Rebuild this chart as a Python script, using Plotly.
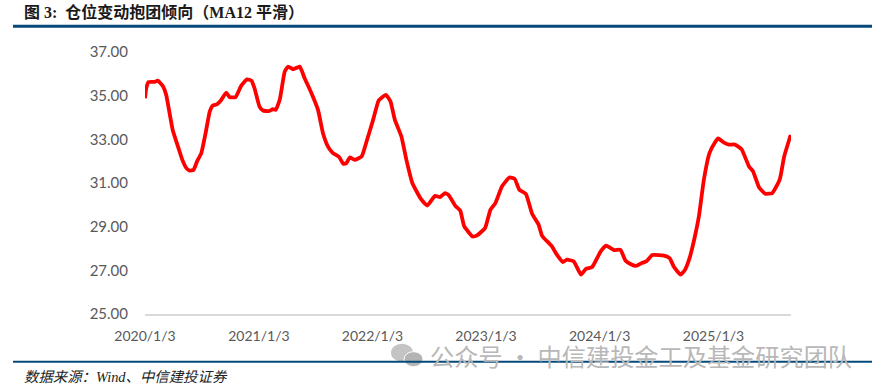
import pandas as pd
import plotly.graph_objects as go

start_date = "2020-01-03"
end_date_days = 2076
day_offsets = [0,4,11,31,41,57,68,79,89,106,120,133,143,156,167,181,195,208,218,231,245,261,272,291,309,328,342,352,368,379,398,411,420,433,449,460,476,497,513,535,556,572,588,604,624,637,647,658,674,696,712,733,751,774,789,803,824,840,859,873,886,907,932,948,964,976,997,1013,1026,1053,1067,1093,1110,1126,1147,1171,1188,1203,1224,1244,1265,1276,1306,1324,1343,1356,1378,1401,1417,1437,1464,1482,1507,1528,1544,1560,1578,1596,1611,1630,1652,1668,1686,1700,1721,1734,1750,1766,1780,1796,1814,1832,1842,1861,1877,1896,1917,1941,1954,1973,1993,2016,2040,2054,2075]
values = [34.88,35.34,35.62,35.63,35.69,35.45,35.04,34.2,33.43,32.67,32.06,31.68,31.57,31.6,31.98,32.37,33.3,34.27,34.55,34.6,34.8,35.14,34.93,34.93,35.45,35.75,35.69,35.34,34.5,34.32,34.29,34.38,34.35,34.81,36.1,36.33,36.21,36.33,35.8,35.11,34.35,33.28,32.67,32.37,32.19,31.88,31.91,32.17,32.06,32.21,32.9,33.89,34.78,35.04,34.73,33.89,33.13,32.06,31.0,30.61,30.28,29.97,30.41,30.35,30.54,30.45,29.96,29.74,29.01,28.55,28.6,28.94,29.77,30.08,30.84,31.25,31.19,30.69,30.5,29.59,29.09,28.58,28.13,27.71,27.38,27.49,27.41,26.8,27.07,27.15,27.86,28.13,27.93,27.94,27.45,27.29,27.2,27.33,27.41,27.7,27.7,27.67,27.56,27.15,26.81,26.99,27.56,28.48,29.47,31.15,32.37,32.87,33.04,32.85,32.76,32.76,32.55,31.76,31.53,30.81,30.51,30.54,31.17,32.21,33.2]
x_tick_dates = ["2020-01-03","2021-01-03","2022-01-03","2023-01-03","2024-01-03","2025-01-03"]
x_tick_labels = ["2020/1/3","2021/1/3","2022/1/3","2023/1/3","2024/1/3","2025/1/3"]
y_ticks = [25,27,29,31,33,35,37]
y_tick_labels = ["25.00","27.00","29.00","31.00","33.00","35.00","37.00"]
title_text = "图 3:  仓位变动抱团倾向（MA12 平滑）"
source_text = "数据来源：Wind、中信建投证券"
watermark_text = "公众号 · 中信建投金工及基金研究团队"

FIG_W, FIG_H = 882, 390
L, R, T, B = 145, 791, 52, 314.3
def px(x): return (x - L) / (R - L)
def py(y): return (B - y) / (B - T)

start = pd.Timestamp(start_date)
dates = [start + pd.Timedelta(days=d) for d in day_offsets]

fig = go.Figure(go.Scatter(x=dates, y=values, mode="lines",
                           line=dict(color="#ff0000", width=3.8, shape="spline", smoothing=0.4),
                           hoverinfo="skip"))
RULE = "#054a7a"
shapes = [
    dict(type="line", xref="paper", yref="paper", x0=px(13), x1=px(872), y0=py(26.3), y1=py(26.3),
         line=dict(color=RULE, width=3)),
    dict(type="line", xref="paper", yref="paper", x0=px(13), x1=px(872), y0=py(362), y1=py(362),
         line=dict(color=RULE, width=2)),
    dict(type="circle", xref="paper", yref="paper", x0=px(391), x1=px(413), y0=py(344), y1=py(362),
         fillcolor="#c4c4c4", line_width=0, layer="below"),
    dict(type="circle", xref="paper", yref="paper", x0=px(404), x1=px(423), y0=py(352), y1=py(367),
         fillcolor="#b4b4b4", line=dict(color="white", width=1), layer="below"),
]
def note(x, y, text, size, color, family, anchor="left"):
    return dict(xref="paper", yref="paper", x=px(x), y=py(y), text=text, showarrow=False,
                xanchor=anchor, yanchor="middle", align="left", borderpad=0,
                font=dict(size=size, color=color, family=family))
annotations = [
    note(23, 11.5, "<b>" + title_text + "</b>", 16, "#1a1a1a", "'Liberation Serif','Noto Sans CJK SC'"),
    note(23, 377, "<i>" + source_text + "</i>", 14.4, "#222222", "'Liberation Serif','Noto Sans CJK SC'"),
    note(429, 355.5, watermark_text, 24.2, "#b8b8b8", "'Noto Sans CJK SC'"),
]
fig.update_layout(
    width=FIG_W, height=FIG_H, autosize=False,
    margin=dict(l=L, r=FIG_W - R, t=T, b=FIG_H - B, pad=0),
    paper_bgcolor="white", plot_bgcolor="white", showlegend=False,
    shapes=shapes, annotations=annotations,
    xaxis=dict(type="date", range=[start, start + pd.Timedelta(days=end_date_days)],
               tickmode="array", tickvals=x_tick_dates, ticktext=x_tick_labels,
               showgrid=False, zeroline=False, showline=True, linecolor="#d9d9d9", linewidth=1.5,
               ticks="", ticklabelstandoff=8,
               tickfont=dict(family="Lato", size=14, color="#595959")),
    yaxis=dict(range=[25, 37], tickmode="array", tickvals=y_ticks, ticktext=y_tick_labels,
               showgrid=False, zeroline=False, showline=False, ticks="", ticklabelstandoff=16,
               tickfont=dict(family="Lato", size=15, color="#595959")),
)
# Remove the page's default 8 px body margin so the figure fills the window exactly.
fig.write_html("out.html", config={"displayModeBar": False},
               post_script="document.body.style.margin='0';document.body.style.overflow='hidden';")
